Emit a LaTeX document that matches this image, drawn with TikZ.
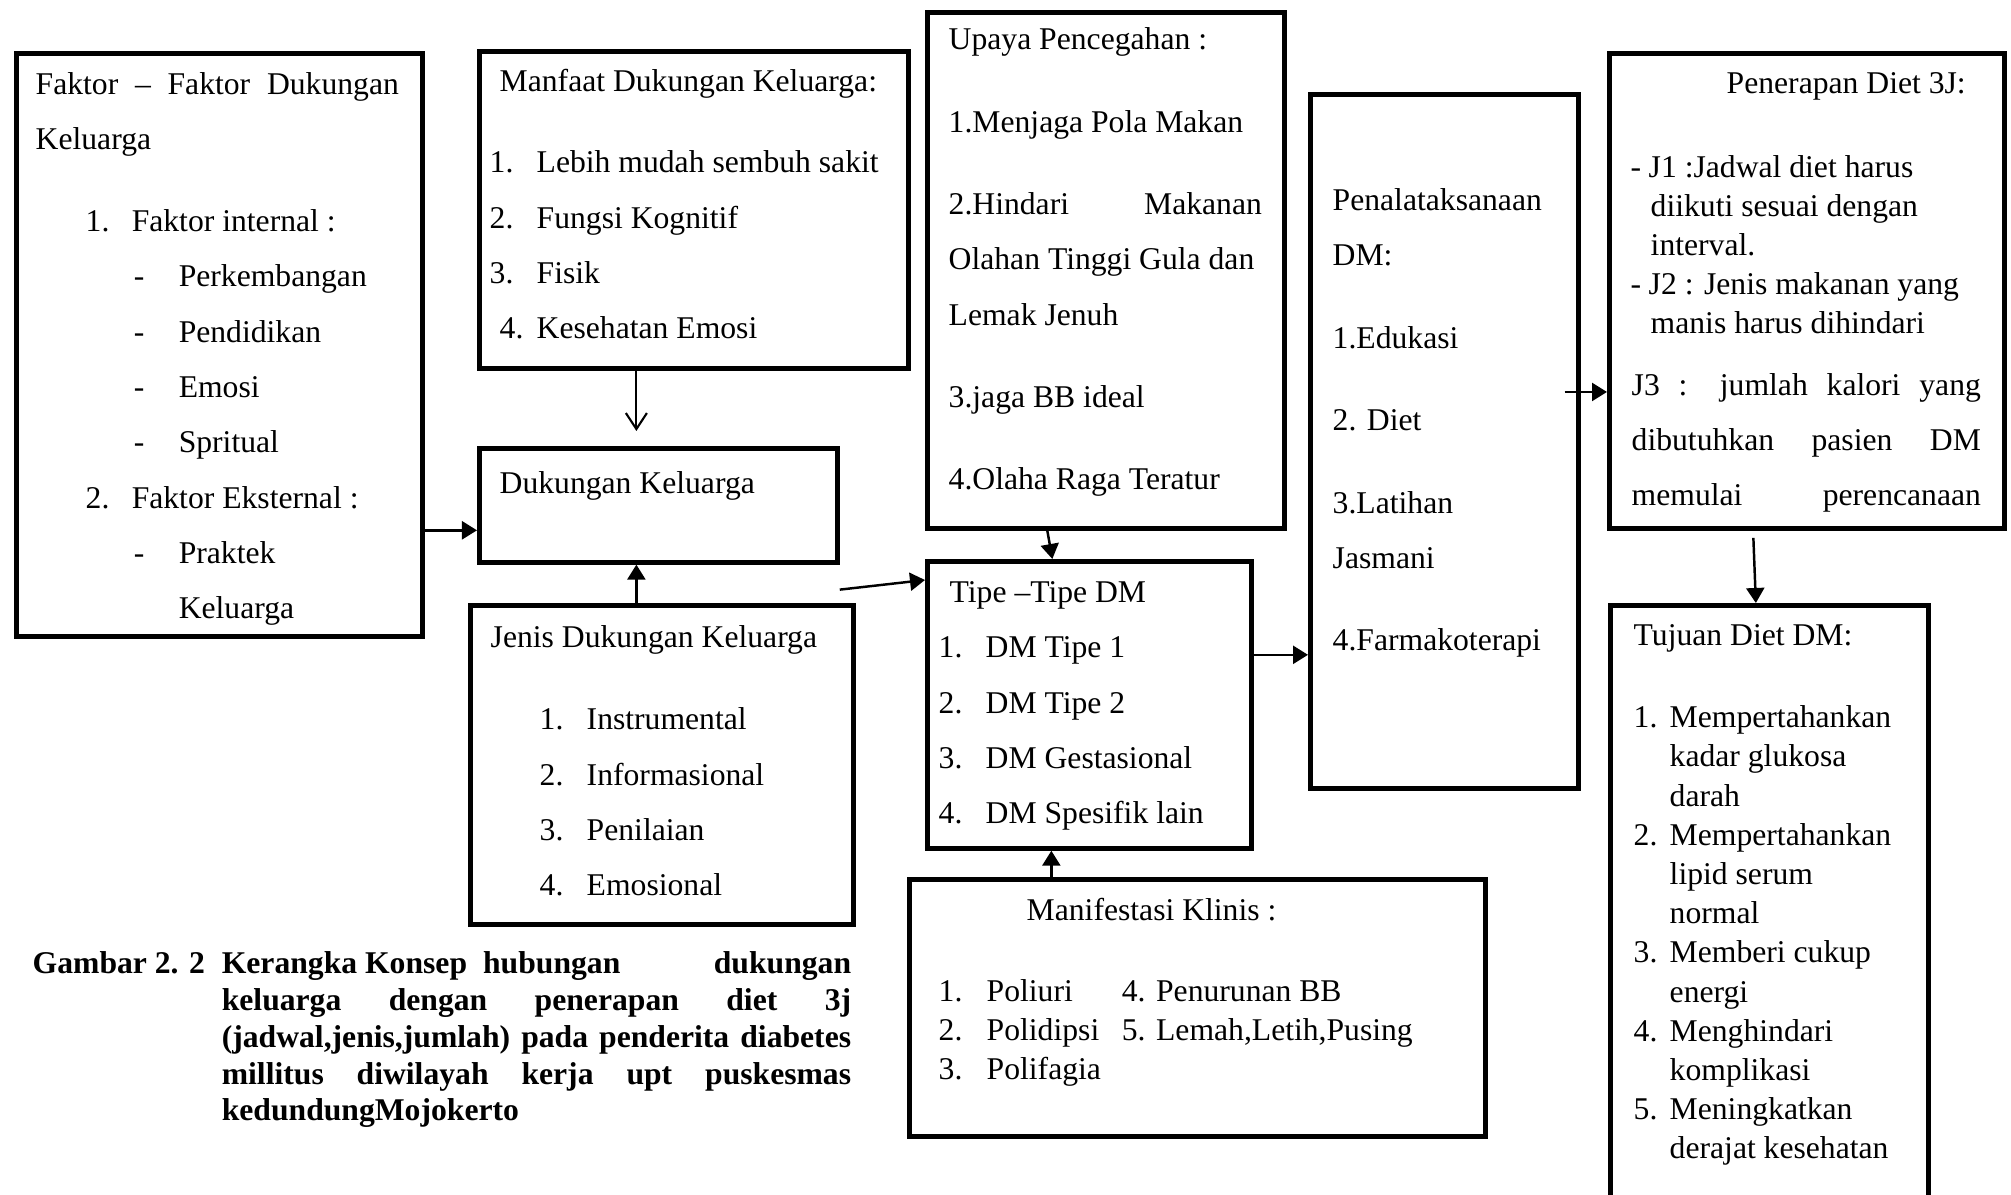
\documentclass[tikz,border=0pt]{standalone}
\usepackage{fontspec}
\setmainfont{Liberation Serif}
\usetikzlibrary{arrows.meta,positioning}

\begin{document}
\begin{tikzpicture}[
  x=0.01cm,y=-0.01cm,
  box/.style={draw,line width=1.3pt,anchor=north west,inner sep=0pt},
  txt/.style={anchor=base west,align=left,inner sep=0pt,yshift=-0.03cm,font=\fontsize{9}{15.75}\selectfont},
  tight/.style={font=\fontsize{9}{11.15}\selectfont},
  arr/.style={-{Triangle[length=1.5mm,width=1.8mm]},line width=0.7pt},
  barb/.style={-{Straight Barb[length=1.6mm,width=2.1mm]},line width=0.6pt}
]
  \useasboundingbox (0,0) rectangle (2011,1195);
  \clip (0,0) rectangle (2011,1195);

  % kotak
  \node[box,minimum width=4.06cm,minimum height=5.83cm] (faktor) at (14,51) {};
  \node[box,minimum width=4.29cm,minimum height=3.17cm] (manfaat) at (477,49) {};
  \node[box,minimum width=3.58cm,minimum height=1.14cm] (dukungan) at (477,446) {};
  \node[box,minimum width=3.83cm,minimum height=3.19cm] (jenis) at (468,603) {};
  \node[box,minimum width=3.57cm,minimum height=5.16cm] (upaya) at (925,10) {};
  \node[box,minimum width=3.24cm,minimum height=2.87cm] (tipe) at (925,559) {};
  \node[box,minimum width=5.76cm,minimum height=2.57cm] (klinis) at (907,877) {};
  \node[box,minimum width=2.68cm,minimum height=6.94cm] (penat) at (1308,92) {};
  \node[box,minimum width=3.95cm,minimum height=4.75cm] (diet3j) at (1607,51) {};
  \node[box,minimum width=3.18cm,minimum height=6.60cm] (tujuan) at (1608,603) {};

  % isi kotak (anchor base = baris terakhir)
  \node[txt] (faktor-t) at (35,616) {\makebox[3.63cm][s]{Faktor – Faktor Dukungan}\\
    Keluarga\\[0.26cm]
    \hspace*{0.5cm}\makebox[0.46cm][l]{1.}Faktor internal :\\
    \hspace*{0.98cm}\makebox[0.45cm][l]{-}Perkembangan\\
    \hspace*{0.98cm}\makebox[0.45cm][l]{-}Pendidikan\\
    \hspace*{0.98cm}\makebox[0.45cm][l]{-}Emosi\\
    \hspace*{0.98cm}\makebox[0.45cm][l]{-}Spritual\\
    \hspace*{0.5cm}\makebox[0.46cm][l]{2.}Faktor Eksternal :\\
    \hspace*{0.98cm}\makebox[0.45cm][l]{-}Praktek\\
    \hspace*{1.43cm}Keluarga};
  \node[txt] (manfaat-t) at (489,336) {\hspace*{0.1cm}Manfaat Dukungan Keluarga:\\[0.255cm]
    \makebox[0.47cm][l]{1.}Lebih mudah sembuh sakit\\
    \makebox[0.47cm][l]{2.}Fungsi Kognitif\\
    \makebox[0.47cm][l]{3.}Fisik\\
    \hspace*{0.1cm}\makebox[0.37cm][l]{4.}Kesehatan Emosi};
  \node[txt] (dukungan-t) at (499,491) {Dukungan Keluarga};
  \node[txt] (jenis-t) at (490,893) {Jenis Dukungan Keluarga\\[0.27cm]
    \hspace*{0.49cm}\makebox[0.47cm][l]{1.}Instrumental\\
    \hspace*{0.49cm}\makebox[0.47cm][l]{2.}Informasional\\
    \hspace*{0.49cm}\makebox[0.47cm][l]{3.}Penilaian\\
    \hspace*{0.49cm}\makebox[0.47cm][l]{4.}Emosional};
  \node[txt] (upaya-t) at (948,487) {Upaya Pencegahan :\\[0.27cm]
    1.Menjaga Pola Makan\\[0.27cm]
    \makebox[3.13cm][s]{2.Hindari Makanan}\\
    Olahan Tinggi Gula dan\\
    Lemak Jenuh\\[0.27cm]
    3.jaga BB ideal\\[0.27cm]
    4.Olaha Raga Teratur};
  \node[txt] (tipe-t) at (938,821) {\hspace*{0.11cm}Tipe –Tipe DM\\
    \makebox[0.47cm][l]{1.}DM Tipe 1\\
    \makebox[0.47cm][l]{2.}DM Tipe 2\\
    \makebox[0.47cm][l]{3.}DM Gestasional\\
    \makebox[0.47cm][l]{4.}DM Spesifik lain};
  \node[txt] (klinis-t) at (1026,918) {Manifestasi Klinis :};
  \node[txt,tight] (klinis-l) at (938,1077) {\makebox[0.48cm][l]{1.}\makebox[1.35cm][l]{Poliuri}4. Penurunan BB\\
    \makebox[0.48cm][l]{2.}\makebox[1.35cm][l]{Polidipsi}5. Lemah,Letih,Pusing\\
    \makebox[0.48cm][l]{3.}Polifagia};
  \node[txt] (penat-t) at (1332,648) {Penalataksanaan\\
    DM:\\[0.27cm]
    1.Edukasi\\[0.27cm]
    2. Diet\\[0.27cm]
    3.Latihan\\
    Jasmani\\[0.27cm]
    4.Farmakoterapi};
  \node[txt] (diet3j-t) at (1726,91) {Penerapan Diet 3J:};
  \node[txt,tight] (diet3j-j) at (1630,331) {\makebox[0.18cm][l]{-}J1 :Jadwal diet harus\\
    \hspace*{0.2cm}diikuti sesuai dengan\\
    \hspace*{0.2cm}interval.\\
    \makebox[0.18cm][l]{-}J2 : Jenis makanan yang\\
    \hspace*{0.2cm}manis harus dihindari};
  \node[txt] (diet3j-k) at (1631,503) {\makebox[3.49cm][s]{J3 : jumlah kalori yang}\\
    \makebox[3.49cm][s]{dibutuhkan pasien DM}\\
    \makebox[3.49cm][s]{memulai perencanaan}};
  \node[txt] (tujuan-t) at (1633,643) {Tujuan Diet DM:};
  \node[txt,tight] (tujuan-l) at (1633,1156) {\makebox[0.36cm][l]{1.}Mempertahankan\\
    \hspace*{0.36cm}kadar glukosa\\
    \hspace*{0.36cm}darah\\
    \makebox[0.36cm][l]{2.}Mempertahankan\\
    \hspace*{0.36cm}lipid serum\\
    \hspace*{0.36cm}normal\\
    \makebox[0.36cm][l]{3.}Memberi cukup\\
    \hspace*{0.36cm}energi\\
    \makebox[0.36cm][l]{4.}Menghindari\\
    \hspace*{0.36cm}komplikasi\\
    \makebox[0.36cm][l]{5.}Meningkatkan\\
    \hspace*{0.36cm}derajat kesehatan};

  % keterangan gambar
  \node[txt,font=\fontsize{9}{10.5}\selectfont\bfseries] (caption) at (32,1118) {\makebox[1.89cm][l]{Gambar 2. 2}\makebox[6.29cm][l]{Kerangka Konsep\hspace{0.16cm}hubungan\hfill dukungan}\\
    \hspace*{1.89cm}\makebox[6.29cm][s]{keluarga dengan penerapan diet 3j}\\
    \hspace*{1.89cm}\makebox[6.29cm][s]{(jadwal,jenis,jumlah) pada penderita diabetes}\\
    \hspace*{1.89cm}\makebox[6.29cm][s]{millitus diwilayah kerja upt puskesmas}\\
    \hspace*{1.89cm}kedundungMojokerto};

  % panah
  \coordinate (dk-in) at ([yshift=-0.25cm]dukungan.west);
  \coordinate (dk-top) at ([xshift=-0.22cm,yshift=0.15cm]dukungan.north);
  \coordinate (dk-bot) at ([xshift=-0.22cm]dukungan.south);
  \coordinate (dk-out) at ([yshift=-0.25cm]dukungan.south east);
  \coordinate (tp-in) at ([yshift=-0.21cm]tipe.north west);
  \coordinate (tp-bot) at ([xshift=-0.38cm]tipe.south);
  \coordinate (tp-out) at ([yshift=0.5cm]tipe.east);
  \coordinate (pn-out) at ([xshift=-0.16cm]penat.east);
  \coordinate (dj-in) at ([yshift=-1.01cm]diet3j.west);
  \draw[arr] (faktor.east |- dk-in) -- (dk-in);
  \draw[barb] (manfaat.south -| dk-top) -- (dk-top);
  \draw[arr] (jenis.north -| dk-bot) -- (dk-bot);
  \draw[arr] (dk-out) -- (tp-in);
  \draw[arr] ([xshift=-0.585cm]upaya.south) -- ([xshift=-0.37cm]tipe.north);
  \draw[arr] (klinis.north -| tp-bot) -- (tp-bot);
  \draw[arr] (tp-out) -- (penat.west |- tp-out);
  \draw[arr] (pn-out |- dj-in) -- (dj-in);
  \draw[arr] ([xshift=-0.535cm,yshift=-0.07cm]diet3j.south) -- ([xshift=-0.135cm]tujuan.north);
\end{tikzpicture}
\end{document}
